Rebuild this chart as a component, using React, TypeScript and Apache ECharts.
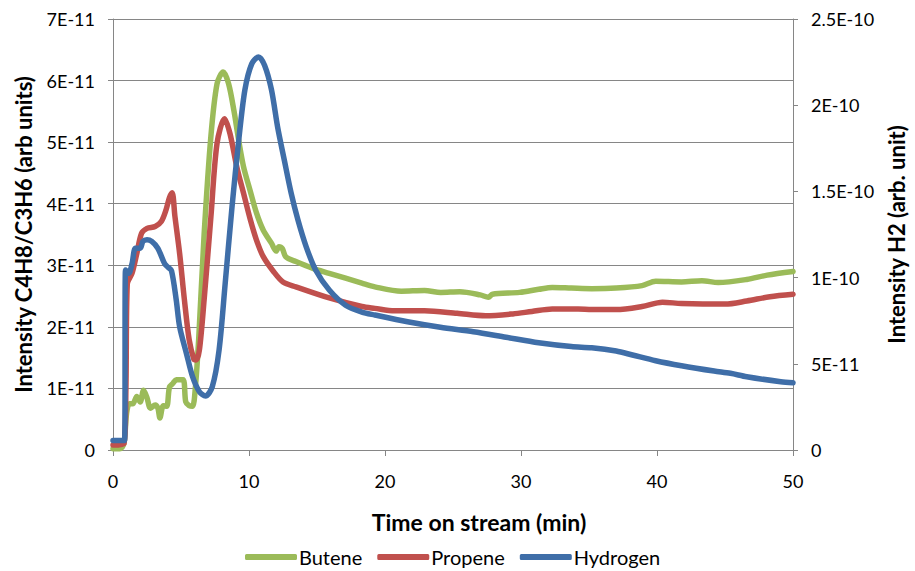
import React, { useEffect, useRef } from "react";
import * as echarts from "echarts";

// Time on stream (min) and intensities
const buteneTime = [0, 0.5, 0.8, 1.0, 1.2, 1.45, 1.75, 2.0, 2.25, 2.5, 2.75, 3.1, 3.3, 3.45, 3.7, 3.95, 4.15, 4.4, 4.65, 5.15, 5.35, 5.6, 5.85, 6.05, 6.3, 6.7, 7.2, 7.65, 8.1, 8.5, 8.9, 9.25, 9.6, 10.1, 10.55, 11.05, 11.65, 12.0, 12.2, 12.45, 12.7, 13.45, 14.7, 15.9, 18.3, 19.25, 21.2, 22.9, 24.1, 25.5, 27.0, 27.6, 27.9, 29.9, 31.3, 32.3, 33.7, 35.2, 37, 38.9, 39.9, 41.8, 43.3, 44.5, 46.6, 48.1, 50];
// units of 1E-11
const buteneValue = [0.02, 0.02, 0.1, 0.6, 0.75, 0.75, 0.87, 0.78, 0.97, 0.85, 0.68, 0.73, 0.68, 0.52, 0.72, 0.71, 1.02, 1.08, 1.14, 1.14, 0.78, 0.72, 0.71, 1.0, 1.8, 3.5, 5.1, 5.95, 6.14, 5.95, 5.5, 5.02, 4.6, 4.2, 3.85, 3.57, 3.36, 3.23, 3.3, 3.27, 3.14, 3.06, 2.95, 2.87, 2.71, 2.65, 2.58, 2.59, 2.56, 2.57, 2.52, 2.48, 2.53, 2.56, 2.61, 2.64, 2.63, 2.62, 2.63, 2.67, 2.74, 2.73, 2.75, 2.72, 2.77, 2.84, 2.9];

const propeneTime = [0, 0.8, 0.95, 1.05, 1.4, 1.75, 2.1, 2.5, 3.1, 3.55, 3.9, 4.15, 4.35, 4.55, 4.9, 5.25, 5.6, 5.95, 6.1, 6.35, 6.7, 7.2, 7.65, 8.2, 8.6, 9.1, 9.6, 10.1, 10.55, 11.05, 11.8, 12.5, 13.45, 15.9, 18.3, 19.25, 20.7, 22.9, 25.3, 27.4, 29.4, 30.8, 32.3, 34.2, 35.2, 37, 38.9, 40.4, 41.8, 45, 46.6, 48.3, 50];
// units of 1E-11
const propeneValue = [0.08, 0.1, 1.0, 2.7, 2.87, 3.19, 3.52, 3.6, 3.63, 3.71, 3.9, 4.1, 4.18, 3.8, 3.19, 2.44, 1.79, 1.47, 1.46, 1.62, 2.44, 3.79, 4.98, 5.38, 5.14, 4.6, 4.17, 3.74, 3.41, 3.14, 2.9, 2.73, 2.65, 2.47, 2.33, 2.3, 2.26, 2.26, 2.22, 2.18, 2.21, 2.25, 2.29, 2.29, 2.28, 2.28, 2.33, 2.4, 2.38, 2.37, 2.42, 2.49, 2.53];

const hydrogenTime = [0, 0.85, 0.92, 1.15, 1.4, 1.65, 2.0, 2.2, 2.5, 2.85, 3.3, 3.8, 4.05, 4.3, 4.65, 4.9, 5.4, 5.85, 6.35, 6.8, 7.3, 7.8, 8.25, 8.75, 9.25, 9.7, 10.2, 10.7, 11.15, 11.65, 12.1, 12.6, 13.1, 13.6, 14.2, 14.9, 15.9, 17.1, 18.3, 19.25, 21.66, 24.07, 26.5, 28.9, 31.3, 33.7, 35.2, 37, 38.2, 39.9, 41.8, 44.2, 45.4, 46.6, 49.1, 50];
// units of 1E-10
const hydrogenValue = [0.055, 0.055, 1.044, 1.025, 1.08, 1.17, 1.17, 1.21, 1.22, 1.21, 1.17, 1.08, 1.06, 1.04, 0.87, 0.715, 0.56, 0.425, 0.338, 0.313, 0.367, 0.58, 0.967, 1.41, 1.8, 2.09, 2.24, 2.28, 2.23, 2.09, 1.875, 1.68, 1.49, 1.334, 1.18, 1.044, 0.928, 0.84, 0.8, 0.783, 0.744, 0.712, 0.686, 0.654, 0.622, 0.6, 0.593, 0.574, 0.551, 0.518, 0.489, 0.458, 0.445, 0.425, 0.396, 0.39];

const seriesNames = ["Butene", "Propene", "Hydrogen"];
const xTitle = "Time on stream (min)";
const leftTitle = "Intensity C4H8/C3H6 (arb units)";
const rightTitle = "Intensity H2 (arb. unit)";

const zip = (t: number[], v: number[]) => t.map((x, i) => [x, v[i]]);

const FONT = "Lato, 'Open Sans', sans-serif";
const GRID = "#868686";

export default function App() {
  const ref = useRef<HTMLDivElement>(null);
  useEffect(() => {
    if (!ref.current) return;
    const chart = echarts.init(ref.current, undefined, { renderer: "svg" });
    const lineSeries = (name: string, data: number[][], color: string, yAxisIndex: number) => ({
      name,
      type: "line",
      data,
      yAxisIndex,
      showSymbol: false,
      symbol: "none",
      smooth: 0.3,
      lineStyle: { color, width: 5.5, cap: "round", join: "round" },
      itemStyle: { color },
    });
    chart.setOption({
      animation: false,
      backgroundColor: "#ffffff",
      textStyle: { fontFamily: FONT },
      grid: { left: 113, right: 112, top: 19, bottom: 121, containLabel: false },
      legend: {
        data: seriesNames,
        left: 245,
        top: 546,
        padding: 0,
        icon: "roundRect",
        itemWidth: 52,
        itemHeight: 6,
        itemGap: 15,
        textStyle: { fontFamily: FONT, fontSize: 20, lineHeight: 22, color: "#000", padding: [0, 0, 0, -3] },
      },
      xAxis: {
        type: "value",
        min: 0,
        max: 50,
        interval: 10,
        name: xTitle,
        nameLocation: "middle",
        nameGap: 60,
        nameTextStyle: { fontFamily: FONT, fontSize: 23, fontWeight: "bold", color: "#000", padding: [0, 0, 0, 52] },
        axisLine: { show: true, lineStyle: { color: GRID, width: 1 } },
        axisTick: { show: true, length: 6, lineStyle: { color: GRID } },
        axisLabel: { fontFamily: FONT, fontSize: 18, color: "#000", margin: 22 },
        splitLine: { show: false },
      },
      yAxis: [
        {
          type: "value",
          min: 0,
          max: 7,
          interval: 1,
          position: "left",
          name: leftTitle,
          nameLocation: "middle",
          nameGap: 79,
          nameTextStyle: { fontFamily: FONT, fontSize: 22, fontWeight: "bold", color: "#000" },
          axisLine: { show: true, lineStyle: { color: GRID, width: 1 } },
          axisTick: { show: true, length: 5, lineStyle: { color: GRID } },
          axisLabel: {
            fontFamily: FONT,
            fontSize: 18,
            color: "#000",
            margin: 18,
            formatter: (v: number) => (v === 0 ? "0" : `${v}E-11`),
          },
          splitLine: { show: true, lineStyle: { color: GRID, width: 1 } },
        },
        {
          type: "value",
          min: 0,
          max: 2.5,
          interval: 0.5,
          position: "right",
          name: rightTitle,
          nameLocation: "middle",
          nameGap: 82,
          nameRotate: 90,
          nameTextStyle: { fontFamily: FONT, fontSize: 22, fontWeight: "bold", color: "#000" },
          axisLine: { show: true, lineStyle: { color: GRID, width: 1 } },
          axisTick: { show: true, length: 5, lineStyle: { color: GRID } },
          axisLabel: {
            fontFamily: FONT,
            fontSize: 18,
            color: "#000",
            margin: 18,
            formatter: (v: number) =>
              v === 0 ? "0" : v < 1 ? `${Math.round(v * 10)}E-11` : `${v}E-10`,
          },
          splitLine: { show: false },
        },
      ],
      series: [
        lineSeries(seriesNames[0], zip(buteneTime, buteneValue), "#9BBB59", 0),
        lineSeries(seriesNames[1], zip(propeneTime, propeneValue), "#C0504D", 0),
        lineSeries(seriesNames[2], zip(hydrogenTime, hydrogenValue), "#3F6EA8", 1),
      ],
    });
    return () => chart.dispose();
  }, []);
  return <div ref={ref} style={{ width: 915, height: 571, position: "absolute", left: 0, top: 0 }} />;
}
